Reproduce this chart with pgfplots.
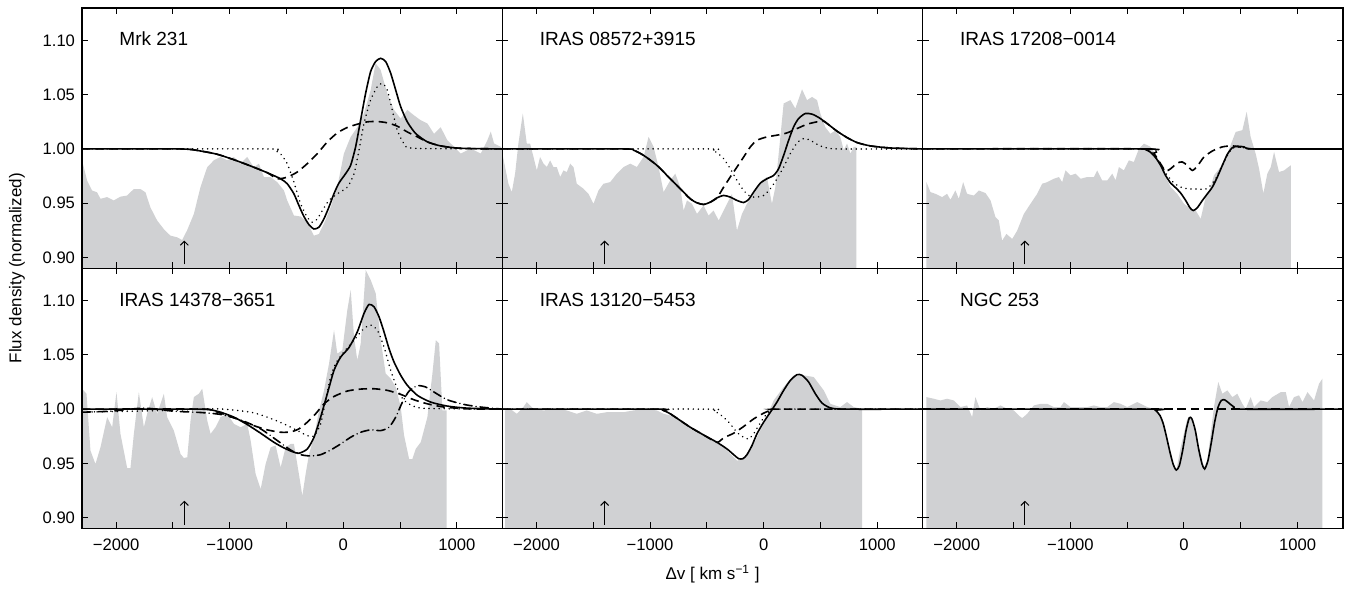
\documentclass[border=0pt]{standalone}
\usepackage{fontspec}
\setmainfont{Liberation Sans}
\usepackage{pgfplots}
\pgfplotsset{compat=1.18}
\usepgfplotslibrary{groupplots}
\usetikzlibrary{arrows.meta}

\definecolor{specgray}{RGB}{208,209,211}
\newcommand{\tickfont}{\fontsize{8.3}{10}\selectfont}
\newcommand{\labfont}{\fontsize{8.5}{10}\selectfont}
\newcommand{\titfont}{\fontsize{9.5}{11}\selectfont}

\pgfplotsset{
  spec/.style={fill=specgray, draw=none},
  fitsolid/.style={black, line width=0.8pt, smooth, tension=0.4},
  fitdot/.style={black, line width=0.85pt, line cap=round, dash pattern=on 0.01pt off 2.5pt, smooth, tension=0.4},
  fitdash/.style={black, line width=0.8pt, dash pattern=on 4.2pt off 2.5pt, smooth, tension=0.4},
  fitdashdot/.style={black, line width=0.8pt, line cap=round, dash pattern=on 4.2pt off 2pt on 0.01pt off 2pt, smooth, tension=0.4},
}

\begin{document}
\begin{tikzpicture}
\begin{groupplot}[
  group style={group size=3 by 2, horizontal sep=0pt, vertical sep=0pt,
    xticklabels at=edge bottom, yticklabels at=edge left, group name=gp},
  scale only axis, width=210pt, height=130pt,
  xmin=-2300, xmax=1400, ymin=0.89, ymax=1.13,
  xtick={-2000,-1500,...,1000},
  xticklabels={−2000,,−1000,,0,,1000},
  ytick={0.90,0.95,1.00,1.05,1.10},
  yticklabels={0.90,0.95,1.00,1.05,1.10},
  ticklabel style={font=\tickfont},
  xticklabel style={yshift=-1.5pt},
  major tick length=3pt,
  tick style={black, line width=0.5pt},
  axis line style={line width=0.7pt},
  axis on top,
]

% Mrk 231
\nextgroupplot
\addplot[spec] coordinates {
(-2300,0.9895) (-2256,0.971) (-2212,0.9617) (-2168,0.960) (-2138,0.954) (-2080,0.9556) (-2021,0.9525) (-1962,0.956) (-1904,0.957) (-1845,0.963) (-1786,0.963) (-1742,0.960) (-1698,0.946) (-1639,0.934) (-1580,0.926) (-1522,0.920) (-1463,0.9185) (-1419,0.916) (-1375,0.925) (-1316,0.940) (-1257,0.965) (-1199,0.983) (-1140,0.9895) (-1081,0.9926) (-1022,0.9895) (-964,0.9926) (-905,0.9864) (-846,0.9926) (-788,0.983) (-743,0.9864) (-699,0.974) (-641,0.974) (-582,0.9694) (-523,0.9617) (-494,0.9525) (-435,0.9386) (-376,0.9377) (-318,0.9324) (-259,0.920) (-215,0.9216) (-171,0.931) (-112,0.946) (-53,0.965) (5,0.9957) (64,1.011) (123,1.020) (182,1.033) (240,1.054) (284,1.079) (328,1.073) (387,1.051) (446,1.036) (505,1.028) (563,1.036) (622,1.031) (681,1.0265) (740,1.0235) (798,1.014) (857,1.020) (916,1.008) (975,1.002) (1033,0.9957) (1092,0.9988) (1151,0.9988) (1210,0.9957) (1268,1.008) (1298,1.016) (1327,1.005) (1386,1.002) (1400,1.0)
} \closedcycle;
\addplot[fitdash] coordinates {
(-2300,1) (-1434,1) (-1257,0.9981) (-1111,0.9951) (-964,0.9901) (-817,0.9843) (-670,0.9781) (-582,0.9725) (-494,0.974) (-406,0.9787) (-318,0.9864) (-229,0.9957) (-141,1.0065) (-53,1.0148) (35,1.0198) (123,1.0228) (211,1.025) (299,1.0253) (387,1.0241) (475,1.021) (563,1.0157) (652,1.0111) (740,1.0065) (857,1.0028) (1033,1.0006) (1400,1)
};
\addplot[fitdot] coordinates {
(-2300,1) (-650,1) (-600,0.9985) (-553,0.9955) (-494,0.9864) (-435,0.9694) (-376,0.9494) (-318,0.937) (-274,0.9324) (-229,0.9355) (-185,0.9432) (-127,0.9525) (-53,0.9586) (35,0.9648) (94,0.9772) (138,0.9988) (182,1.0235) (240,1.0451) (299,1.0574) (343,1.0605) (387,1.0543) (431,1.0358) (475,1.0173) (534,1.0049) (622,1.0006) (1400,1)
};
\addplot[fitsolid] coordinates {
(-2300,1) (-1434,1) (-1257,0.9981) (-1111,0.9951) (-964,0.9901) (-817,0.9843) (-670,0.9781) (-553,0.9725) (-494,0.9679) (-435,0.9586) (-391,0.9478) (-347,0.9377) (-303,0.9302) (-259,0.9262) (-215,0.9278) (-171,0.9355) (-127,0.9463) (-83,0.9586) (-39,0.9685) (20,0.9772) (64,0.9849) (108,1.0019) (152,1.0265) (196,1.0512) (240,1.0713) (284,1.0806) (328,1.0836) (373,1.0806) (417,1.0698) (461,1.0543) (505,1.0389) (563,1.025) (637,1.0142) (740,1.0065) (857,1.0028) (1033,1.0006) (1400,1)
};
\node[anchor=base west, inner sep=0pt, font=\titfont] at (rel axis cs:0.088,0.854) {Mrk 231};
\draw[-{Straight Barb[length=2pt,width=4pt]}, line width=0.5pt] (axis cs:-1400,0.8935) -- (axis cs:-1400,0.9155);

% IRAS 08572+3915
\nextgroupplot
\addplot[spec] coordinates {
(-2300,0.9957) (-2276,0.9833) (-2247,0.9679) (-2217,0.9602) (-2188,0.9772) (-2159,1.0049) (-2120,1.0327) (-2085,1.0049) (-2056,1.0049) (-2026,0.9926) (-1997,0.9802) (-1968,0.9926) (-1938,0.9864) (-1909,0.9833) (-1880,0.9895) (-1850,0.9833) (-1821,0.9833) (-1791,0.9741) (-1762,0.9802) (-1733,0.9787) (-1703,0.9864) (-1674,0.9833) (-1645,0.9679) (-1586,0.9633) (-1542,0.9586) (-1498,0.9494) (-1454,0.9617) (-1410,0.9679) (-1351,0.9694) (-1292,0.9772) (-1233,0.9833) (-1175,0.9864) (-1116,0.9833) (-1057,0.9926) (-1013,1.0111) (-969,1.0019) (-925,0.9833) (-881,0.9602) (-822,0.971) (-778,0.9772) (-734,0.9648) (-705,0.9432) (-675,0.9525) (-631,0.9494) (-587,0.9401) (-529,0.9478) (-485,0.9386) (-441,0.9432) (-396,0.934) (-352,0.9432) (-308,0.9525) (-279,0.9586) (-235,0.9247) (-191,0.9401) (-147,0.9494) (-88,0.9586) (-59,0.9648) (-15,0.971) (29,0.9741) (73,0.9494) (103,0.9648) (147,1.0111) (176,1.042) (235,1.045) (279,1.0373) (338,1.055) (382,1.045) (426,1.048) (470,1.045) (499,1.0327) (543,1.020) (587,1.014) (631,1.017) (675,1.0111) (705,0.9988) (734,1.0049) (764,0.9957) (793,1.0019) (816,1.0019)
} \closedcycle;
\addplot[fitdash] coordinates {
(-2300,1) (-1233,1) (-1145,0.9988) (-1057,0.9941) (-940,0.9849) (-822,0.9725) (-734,0.9633) (-646,0.954) (-587,0.9503) (-529,0.9488) (-470,0.9509) (-411,0.9549) (-352,0.9648) (-294,0.9741) (-235,0.9833) (-176,0.9926) (-117,1.0019) (-59,1.008) (29,1.0111) (117,1.0127) (206,1.0148) (294,1.0188) (382,1.0228) (470,1.025) (529,1.0256) (558,1.0235) (646,1.0164) (734,1.0105) (822,1.0059) (940,1.0028) (1116,1.0009) (1400,1)
};
\addplot[fitdot] coordinates {
(-2300,1) (-500,1) (-450,0.9988) (-411,0.9965) (-352,0.991) (-294,0.9818) (-235,0.971) (-176,0.9617) (-117,0.9562) (-59,0.9556) (0,0.9571) (59,0.9633) (117,0.9725) (176,0.9833) (235,0.9957) (294,1.0056) (352,1.0096) (411,1.008) (485,1.0034) (558,1.0009) (675,1) (1400,1)
};
\addplot[fitsolid] coordinates {
(-2300,1) (-1233,1) (-1145,0.9988) (-1057,0.9941) (-940,0.9849) (-822,0.9725) (-734,0.9633) (-646,0.954) (-587,0.9503) (-529,0.9488) (-470,0.9509) (-411,0.9549) (-352,0.9571) (-294,0.9556) (-235,0.9525) (-176,0.9506) (-132,0.9534) (-88,0.9602) (-29,0.9685) (29,0.9725) (88,0.9756) (132,0.9818) (176,0.9941) (220,1.008) (264,1.0204) (308,1.0281) (367,1.0327) (426,1.0321) (485,1.029) (558,1.0235) (646,1.0164) (734,1.0105) (822,1.0059) (940,1.0028) (1116,1.0009) (1400,1)
};
\node[anchor=base west, inner sep=0pt, font=\titfont] at (rel axis cs:0.088,0.854) {IRAS 08572+3915};
\draw[-{Straight Barb[length=2pt,width=4pt]}, line width=0.5pt] (axis cs:-1400,0.8935) -- (axis cs:-1400,0.9155);

% IRAS 17208-0014
\nextgroupplot
\addplot[spec] coordinates {
(-2267,0.9694) (-2232,0.9602) (-2188,0.9586) (-2129,0.9556) (-2085,0.9586) (-2056,0.9531) (-2012,0.9617) (-1982,0.954) (-1944,0.9694) (-1909,0.9586) (-1850,0.957) (-1806,0.9617) (-1747,0.9593) (-1703,0.9525) (-1659,0.937) (-1630,0.934) (-1601,0.9154) (-1563,0.9216) (-1512,0.917) (-1468,0.9247) (-1410,0.940) (-1351,0.9494) (-1292,0.9586) (-1248,0.9679) (-1204,0.9694) (-1145,0.9725) (-1101,0.9741) (-1072,0.9694) (-1043,0.9802) (-999,0.9756) (-954,0.9772) (-910,0.9725) (-852,0.9741) (-793,0.9741) (-764,0.9802) (-720,0.971) (-675,0.971) (-631,0.9772) (-602,0.971) (-573,0.9833) (-529,0.9802) (-485,0.9895) (-441,0.988) (-396,1.0003) (-352,1.0049) (-294,1.0019) (-235,0.9926) (-176,0.9772) (-117,0.9648) (-59,0.9586) (0,0.9494) (59,0.9448) (103,0.9432) (147,0.9355) (191,0.9556) (235,0.9648) (264,0.9756) (323,0.9833) (382,0.9957) (455,1.0157) (514,1.0173) (552,1.0343) (587,1.011) (631,0.9957) (661,0.9818) (699,0.959) (734,0.9772) (764,0.9833) (793,0.9972) (837,0.9787) (881,0.9802) (940,0.9849)
} \closedcycle;
\addplot[fitdash] coordinates {
(-2300,1) (-323,1) (-264,0.9957) (-206,0.9864) (-162,0.9796) (-117,0.9818) (-59,0.987) (-15,0.988) (29,0.9849) (73,0.9802) (117,0.984) (176,0.9926) (250,0.9981) (338,1.0019) (426,1.0028) (529,1.0012) (617,1) (1400,1)
};
\addplot[fitdot] coordinates {
(-2300,1) (-323,1) (-279,0.9972) (-235,0.991) (-191,0.9833) (-147,0.9756) (-88,0.9685) (-29,0.9648) (29,0.9633) (117,0.963) (191,0.963) (235,0.9664) (279,0.9725) (323,0.9818) (367,0.991) (411,0.9988) (455,1.0019) (529,1.0012) (617,1) (1400,1)
};
\addplot[fitsolid] coordinates {
(-2300,1) (-382,1) (-338,0.9994) (-294,0.9969) (-250,0.992) (-206,0.9849) (-162,0.9756) (-117,0.9685) (-73,0.9642) (-29,0.9593) (15,0.9525) (53,0.9457) (82,0.9432) (117,0.9457) (162,0.9525) (206,0.9586) (250,0.9648) (294,0.9741) (338,0.9849) (382,0.9951) (426,1.0012) (470,1.0025) (529,1.0019) (617,1) (1400,1)
};
\node[anchor=base west, inner sep=0pt, font=\titfont] at (rel axis cs:0.088,0.854) {IRAS 17208−0014};
\draw[-{Straight Barb[length=2pt,width=4pt]}, line width=0.5pt] (axis cs:-1400,0.8935) -- (axis cs:-1400,0.9155);

% IRAS 14378-3651
\nextgroupplot
\addplot[spec] coordinates {
(-2300,1.0188) (-2261,1.0142) (-2226,0.9617) (-2182,0.9494) (-2138,0.9648) (-2079,0.9926) (-2035,0.9833) (-1997,1.0157) (-1962,0.9772) (-1903,0.9457) (-1874,0.9457) (-1844,0.9772) (-1800,1.0157) (-1756,0.9833) (-1727,0.9957) (-1683,1.0111) (-1639,0.9957) (-1580,1.0142) (-1551,0.9926) (-1492,0.9802) (-1433,0.9586) (-1404,0.9549) (-1374,0.9556) (-1345,0.9895) (-1316,1.0111) (-1272,1.0142) (-1242,1.0188) (-1198,0.9895) (-1169,0.9772) (-1125,0.9833) (-1081,0.9926) (-1022,0.9957) (-963,0.9864) (-905,0.9833) (-846,0.9864) (-816,0.971) (-772,0.9401) (-728,0.9262) (-684,0.9494) (-640,0.9648) (-596,0.9664) (-552,0.9463) (-508,0.9648) (-464,0.9679) (-435,0.9679) (-391,0.9401) (-361,0.920) (-332,0.9401) (-302,0.9586) (-258,0.9741) (-214,0.9988) (-170,1.0173) (-126,1.042) (-82,1.0728) (-53,1.0512) (-9,1.0543) (35,1.0914) (65,1.1099) (94,1.0667) (123,1.045) (153,1.0605) (197,1.1284) (241,1.1191) (285,1.1068) (329,1.0636) (373,1.0327) (417,1.0281) (461,1.0204) (505,1.0019) (535,0.9756) (579,0.954) (608,0.954) (637,0.9633) (681,0.9694) (740,0.9926) (784,1.0327) (814,1.0636) (843,1.0605) (872,0.9988) (910,0.9988)
} \closedcycle;
\addplot[fitdashdot] coordinates {
(-2300,0.9972) (-2050,0.9981) (-1756,1.0009) (-1492,0.9981) (-1257,0.9969) (-1081,0.9951) (-905,0.9901) (-728,0.9818) (-581,0.971) (-464,0.9623) (-376,0.958) (-288,0.9568) (-200,0.958) (-112,0.9623) (-23,0.9679) (65,0.9741) (153,0.9787) (241,0.9809) (329,0.9802) (402,0.9833) (461,0.9926) (520,1.0065) (579,1.0167) (652,1.0216) (725,1.0204) (799,1.0157) (916,1.0086) (1063,1.0043) (1210,1.0019) (1400,1)
};
\addplot[fitdash] coordinates {
(-2300,1) (-1257,1) (-1110,0.9972) (-963,0.992) (-816,0.9858) (-670,0.9809) (-552,0.9787) (-464,0.979) (-391,0.9818) (-317,0.988) (-244,0.9957) (-170,1.0049) (-82,1.0117) (35,1.0167) (153,1.0185) (270,1.0188) (388,1.0173) (505,1.0136) (623,1.0086) (740,1.0049) (887,1.0019) (1093,1.0003) (1400,1)
};
\addplot[fitdot] coordinates {
(-2300,0.9972) (-1551,0.9988) (-1110,1.0003) (-816,0.9972) (-670,0.9926) (-523,0.9864) (-405,0.9802) (-317,0.9756) (-258,0.975) (-200,0.9864) (-156,1.008) (-112,1.0296) (-68,1.042) (6,1.0528) (94,1.0636) (182,1.0744) (241,1.0775) (300,1.0728) (358,1.0574) (417,1.0358) (476,1.0188) (535,1.008) (623,1.0025) (740,1.0006) (1400,1)
};
\addplot[fitsolid] coordinates {
(-2300,1) (-1257,1) (-1169,0.9994) (-1081,0.9972) (-963,0.9926) (-846,0.9858) (-728,0.9778) (-611,0.9694) (-523,0.9642) (-449,0.9608) (-391,0.9593) (-317,0.9633) (-258,0.9741) (-200,0.9926) (-141,1.0142) (-82,1.0358) (-23,1.0481) (50,1.0568) (123,1.0713) (182,1.0883) (226,1.0966) (270,1.0944) (314,1.0852) (358,1.0713) (402,1.0559) (446,1.0435) (505,1.0312) (564,1.0219) (652,1.0127) (769,1.0065) (916,1.0028) (1093,1.0009) (1400,1)
};
\node[anchor=base west, inner sep=0pt, font=\titfont] at (rel axis cs:0.088,0.854) {IRAS 14378−3651};
\draw[-{Straight Barb[length=2pt,width=4pt]}, line width=0.5pt] (axis cs:-1400,0.8935) -- (axis cs:-1400,0.9155);

% IRAS 13120-5453
\nextgroupplot
\addplot[spec] coordinates {
(-2276,0.9988) (-2232,1.0003) (-2173,0.9957) (-2115,1.0019) (-2085,1.0065) (-2026,1.0003) (-1938,0.9988) (-1821,1.0003) (-1733,0.9988) (-1645,0.9957) (-1557,0.9988) (-1468,0.9957) (-1380,0.9972) (-1233,0.9972) (-1145,0.9988) (-1057,1.0003) (-940,0.9988) (-881,0.9957) (-764,0.9926) (-646,0.9833) (-499,0.9741) (-352,0.9648) (-235,0.9525) (-176,0.954) (-88,0.9679) (0,0.9864) (88,1.008) (176,1.0204) (264,1.0312) (352,1.0312) (441,1.0296) (529,1.0173) (587,1.0049) (675,1.0019) (734,1.0065) (793,1.0019) (866,1.0003)
} \closedcycle;
\addplot[fitdash] coordinates {
(-2300,1) (-940,1) (-881,0.9988) (-822,0.9957) (-734,0.9895) (-646,0.9833) (-529,0.9762) (-411,0.9694) (-352,0.9735) (-264,0.9778) (-176,0.984) (-88,0.991) (0,0.9963) (73,0.9994) (147,1) (1400,1)
};
\addplot[fitdot] coordinates {
(-2300,1) (-500,1) (-440,0.9985) (-382,0.9950) (-308,0.988) (-235,0.9787) (-176,0.9741) (-132,0.9725) (-88,0.9772) (-44,0.9849) (15,0.9941) (73,0.9994) (147,1) (1400,1)
};
\addplot[fitsolid] coordinates {
(-2300,1) (-940,1) (-881,0.9988) (-822,0.9957) (-734,0.9895) (-646,0.9833) (-529,0.9762) (-411,0.9694) (-323,0.9633) (-264,0.958) (-220,0.9543) (-182,0.9543) (-147,0.958) (-103,0.9664) (-59,0.9772) (0,0.988) (59,0.9972) (117,1.0065) (176,1.0173) (235,1.0265) (294,1.0318) (338,1.0312) (396,1.025) (455,1.0142) (514,1.0056) (587,1.0012) (705,1) (1400,1)
};
\node[anchor=base west, inner sep=0pt, font=\titfont] at (rel axis cs:0.088,0.854) {IRAS 13120−5453};
\draw[-{Straight Barb[length=2pt,width=4pt]}, line width=0.5pt] (axis cs:-1400,0.8935) -- (axis cs:-1400,0.9155);

% NGC 253
\nextgroupplot
\addplot[spec] coordinates {
(-2267,1.0111) (-2203,1.0096) (-2144,1.008) (-2085,1.0096) (-2026,1.008) (-1968,1.0019) (-1909,1.0034) (-1865,0.9926) (-1836,1.0111) (-1791,0.9988) (-1733,1.0019) (-1674,1.0003) (-1615,1.0034) (-1557,1.0003) (-1498,0.9988) (-1454,0.9941) (-1424,0.9917) (-1380,0.9957) (-1322,1.0034) (-1263,1.0049) (-1204,1.0049) (-1145,1.0019) (-1087,1.0019) (-1057,1.0065) (-999,1.0019) (-940,1.0019) (-852,1.0019) (-793,1.0034) (-734,1.0019) (-675,1.0019) (-617,1.0065) (-558,1.0049) (-499,1.0019) (-411,1.0065) (-323,1.0019) (-264,1.0003) (-206,0.9926) (-147,0.971) (-103,0.9525) (-68,0.9432) (-29,0.9648) (29,0.991) (59,0.9926) (117,0.971) (176,0.9463) (206,0.9525) (264,1.0019) (302,1.025) (338,1.0142) (382,1.0173) (426,1.0111) (470,1.0142) (514,1.0049) (543,1.0003) (587,1.0111) (617,1.0019) (675,1.008) (734,1.0065) (778,1.0111) (852,1.0157) (896,1.0157) (925,1.0019) (969,1.0111) (1013,1.0127) (1043,1.0065) (1087,1.0157) (1145,1.008) (1189,1.0235) (1219,1.0281)
} \closedcycle;
\addplot[fitdash] coordinates {(-2300,1) (1400,1)};
\addplot[fitsolid] coordinates {
(-2300,1) (-294,1) (-250,0.9988) (-211,0.9941) (-182,0.9864) (-153,0.9741) (-123,0.9602) (-94,0.9488) (-68,0.9438) (-41,0.9478) (-12,0.9617) (18,0.9802) (47,0.992) (70,0.991) (100,0.9802) (129,0.9633) (159,0.9494) (182,0.9448) (211,0.9525) (241,0.9694) (270,0.988) (300,1.0019) (329,1.008) (358,1.0086) (396,1.0056) (441,1.0019) (499,1) (1400,1)
};
\node[anchor=base west, inner sep=0pt, font=\titfont] at (rel axis cs:0.088,0.854) {NGC 253};
\draw[-{Straight Barb[length=2pt,width=4pt]}, line width=0.5pt] (axis cs:-1400,0.8935) -- (axis cs:-1400,0.9155);
\end{groupplot}

\node[rotate=90, font=\labfont] at ([xshift=-32.5pt]gp c1r1.south west) {Flux density (normalized)};
\node[font=\labfont] at ([yshift=-23pt]gp c2r2.south) {Δv [ km s\textsuperscript{−1} ]};

\pgfresetboundingbox
\path ([xshift=-41pt,yshift=4pt]gp c1r1.north west) rectangle ([xshift=2.5pt,yshift=-30pt]gp c3r2.south east);
\end{tikzpicture}
\end{document}
